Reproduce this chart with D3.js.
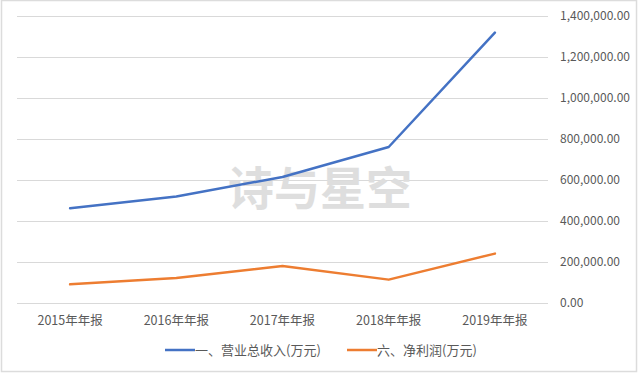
<!DOCTYPE html>
<html>
<head>
<meta charset="utf-8">
<script src="https://cdn.jsdelivr.net/npm/d3@7"></script>
<style>
  html, body { margin: 0; padding: 0; background: #fff; }
  svg { display: block; }
  text { font-family: "Noto Sans CJK SC", "Noto Sans", sans-serif; fill: #595959; }
</style>
</head>
<body>
<div id="chart"></div>
<script>
// 年报类别
const categories = ['2015年年报', '2016年年报', '2017年年报', '2018年年报', '2019年年报'];
// 一、营业总收入(万元)
const revenue = [462000, 520000, 615000, 761000, 1319000];
// 六、净利润(万元)
const netProfit = [91000, 122000, 180000, 114000, 241000];
const yTicks = [0, 200000, 400000, 600000, 800000, 1000000, 1200000, 1400000];
const seriesNames = ['一、营业总收入(万元)', '六、净利润(万元)'];
const colors = ['#4472C4', '#ED7D31'];

const width = 640, height = 373;
const svg = d3.select('#chart').append('svg')
    .attr('width', width)
    .attr('height', height);

// light frame round the picture
svg.append('rect')
    .attr('x', 1.5).attr('y', 0.5)
    .attr('width', 635).attr('height', 371)
    .attr('fill', 'none')
    .attr('stroke', '#dcdcdc')
    .attr('stroke-width', 1.5);

const x = d3.scaleBand().domain(categories).range([17, 548]).padding(0);
const y = d3.scaleLinear().domain([0, 1400000]).range([303, 16]);

// gridlines
svg.append('g')
    .selectAll('line')
    .data(yTicks)
    .join('line')
    .attr('x1', 17).attr('x2', 548)
    .attr('y1', d => Math.round(y(d)) + 0.5)
    .attr('y2', d => Math.round(y(d)) + 0.5)
    .attr('stroke', '#d9d9d9')
    .attr('stroke-width', 1);

// right axis labels
const fmt = d3.format(',.2f');
svg.append('g')
    .selectAll('text')
    .data(yTicks)
    .join('text')
    .attr('x', 560)
    .attr('y', d => y(d))
    .attr('dy', '0.35em')
    .attr('font-size', 12)
    .text(d => fmt(d));

// category labels
svg.append('g')
    .selectAll('text')
    .data(categories)
    .join('text')
    .attr('x', d => x(d) + x.bandwidth() / 2)
    .attr('y', 321)
    .attr('dy', '0.35em')
    .attr('text-anchor', 'middle')
    .attr('font-size', 12.5)
    .text(d => d);

// watermark
svg.append('text')
    .attr('x', 320)
    .attr('y', 188)
    .attr('dy', '0.36em')
    .attr('text-anchor', 'middle')
    .attr('font-size', 46)
    .attr('font-weight', 'bold')
    .style('fill', '#dedede')
    .text('诗与星空');

const line = d3.line()
    .x((d, i) => x(categories[i]) + x.bandwidth() / 2)
    .y(d => y(d));

[revenue, netProfit].forEach((values, k) => {
    svg.append('path')
        .datum(values)
        .attr('d', line)
        .attr('fill', 'none')
        .attr('stroke', colors[k])
        .attr('stroke-width', 2.5)
        .attr('stroke-linejoin', 'round')
        .attr('stroke-linecap', 'round');
});

// legend
const legendX = [165, 347];
seriesNames.forEach((name, k) => {
    const g = svg.append('g').attr('transform', `translate(${legendX[k]},350)`);
    g.append('line')
        .attr('x1', 0).attr('x2', 30)
        .attr('stroke', colors[k])
        .attr('stroke-width', 2.5);
    g.append('text')
        .attr('x', 30)
        .attr('dy', '0.35em')
        .attr('font-size', 13)
        .text(name);
});
</script>
</body>
</html>
